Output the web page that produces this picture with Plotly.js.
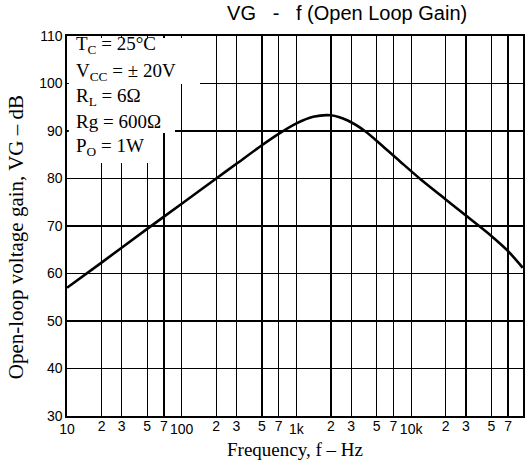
<!DOCTYPE html>
<html>
<head>
<meta charset="utf-8">
<script src="https://cdn.plot.ly/plotly-3.0.1.min.js"></script>
<style>html,body{margin:0;padding:0;background:#fff;}#chart{width:526px;height:466px;}</style>
</head>
<body>
<div id="chart"></div>
<script>
// Open-loop gain vs frequency
const freqHz = [10, 20, 50, 100, 200, 300, 500, 700, 1000, 1400, 2000, 2800, 4000, 5600, 8000, 12000, 20000, 30000, 50000, 70000, 94000];
const gainDb = [57, 62.3, 69.4, 74.7, 80, 83.1, 87, 89.4, 91.6, 93.0, 93.3, 92.2, 89.9, 86.9, 83.6, 79.9, 75.6, 72.2, 67.9, 64.7, 61.2];

const decadeTicks = [10, 100, 1000, 10000];
const decadeLabels = ['10', '100', '1k', '10k'];
const minorTicks = [20, 30, 50, 70, 200, 300, 500, 700, 2000, 3000, 5000, 7000, 20000, 30000, 50000, 70000];
const minorLabels = ['2', '3', '5', '7', '2', '3', '5', '7', '2', '3', '5', '7', '2', '3', '5', '7'];
const yTicks = [30, 40, 50, 60, 70, 80, 90, 100, 110];

const conditions = [
  'T<sub>C</sub> = 25°C',
  'V<sub>CC</sub> = ± 20V',
  'R<sub>L</sub> = 6Ω',
  'Rg = 600Ω',
  'P<sub>O</sub> = 1W'
];
const condY = [0.976, 0.905, 0.839, 0.774, 0.708];

const sans = 'Liberation Sans, Arial, sans-serif';
const serif = 'Liberation Serif, Times New Roman, serif';

const traces = [
  {x: freqHz, y: gainDb, type: 'scatter', mode: 'lines', xaxis: 'x', yaxis: 'y',
   line: {color: '#000', width: 2.6, shape: 'spline', smoothing: 0.8}, hoverinfo: 'skip', showlegend: false},
  {x: freqHz, y: gainDb, type: 'scatter', mode: 'none', xaxis: 'x2', yaxis: 'y',
   hoverinfo: 'skip', showlegend: false}
];

const gridCommon = {showgrid: true, gridcolor: '#000', gridwidth: 1.3, zeroline: false, ticks: ''};

const annotations = conditions.map((t, i) => ({
  text: t, xref: 'paper', yref: 'paper', x: 0.0154, y: condY[i],
  xanchor: 'left', yanchor: 'middle', showarrow: false, align: 'left',
  font: {family: serif, size: 19, color: '#000'}
}));
annotations.push({
  text: 'Open-loop voltage gain, VG – dB', xref: 'paper', yref: 'paper',
  x: -0.11, y: 0.47, textangle: -90, showarrow: false, xanchor: 'center', yanchor: 'middle',
  font: {family: serif, size: 21, color: '#000'}
});
annotations.push({
  text: 'Frequency, f – Hz', xref: 'paper', yref: 'paper',
  x: 0.5, y: -0.088, showarrow: false, xanchor: 'center', yanchor: 'middle',
  font: {family: serif, size: 19, color: '#000'}
});

const layout = {
  width: 526, height: 466,
  margin: {l: 67, r: 3, t: 36, b: 50},
  paper_bgcolor: '#fff', plot_bgcolor: '#fff',
  title: {text: 'VG\u00a0\u00a0\u00a0-\u00a0\u00a0\u00a0f (Open Loop Gain)', x: 0.66, xanchor: 'center', y: 0.972, yanchor: 'middle',
          font: {family: sans, size: 20, color: '#000'}},
  xaxis: Object.assign({}, gridCommon, {
    type: 'log', range: [1, 4.975], tickvals: minorTicks, ticktext: minorLabels,
    ticklabelstandoff: -3, tickfont: {family: sans, size: 14, color: '#000'},
    showline: true, mirror: true, linecolor: '#000', linewidth: 1.6
  }),
  xaxis2: Object.assign({}, gridCommon, {
    type: 'log', range: [1, 4.975], overlaying: 'x', anchor: 'y', side: 'bottom',
    tickvals: decadeTicks, ticktext: decadeLabels, ticklabelstandoff: 3,
    tickfont: {family: sans, size: 14, color: '#000'}
  }),
  yaxis: Object.assign({}, gridCommon, {
    range: [30, 110], tickvals: yTicks, ticktext: yTicks.map(String),
    tickfont: {family: sans, size: 14, color: '#000'},
    showline: true, mirror: true, linecolor: '#000', linewidth: 1.6
  }),
  shapes: [
    {type: 'rect', xref: 'paper', yref: 'paper', x0: 0.004, x1: 0.2917, y0: 0.8737, y1: 0.995, fillcolor: '#fff', line: {width: 0}, layer: 'above'},
    {type: 'rect', xref: 'paper', yref: 'paper', x0: 0.004, x1: 0.2368, y0: 0.7447, y1: 0.8737, fillcolor: '#fff', line: {width: 0}, layer: 'above'},
    {type: 'rect', xref: 'paper', yref: 'paper', x0: 0.004, x1: 0.204, y0: 0.6658, y1: 0.7447, fillcolor: '#fff', line: {width: 0}, layer: 'above'}
  ],
  annotations: annotations,
  showlegend: false
};

Plotly.newPlot('chart', traces, layout, {staticPlot: true, displayModeBar: false});
</script>
</body>
</html>
